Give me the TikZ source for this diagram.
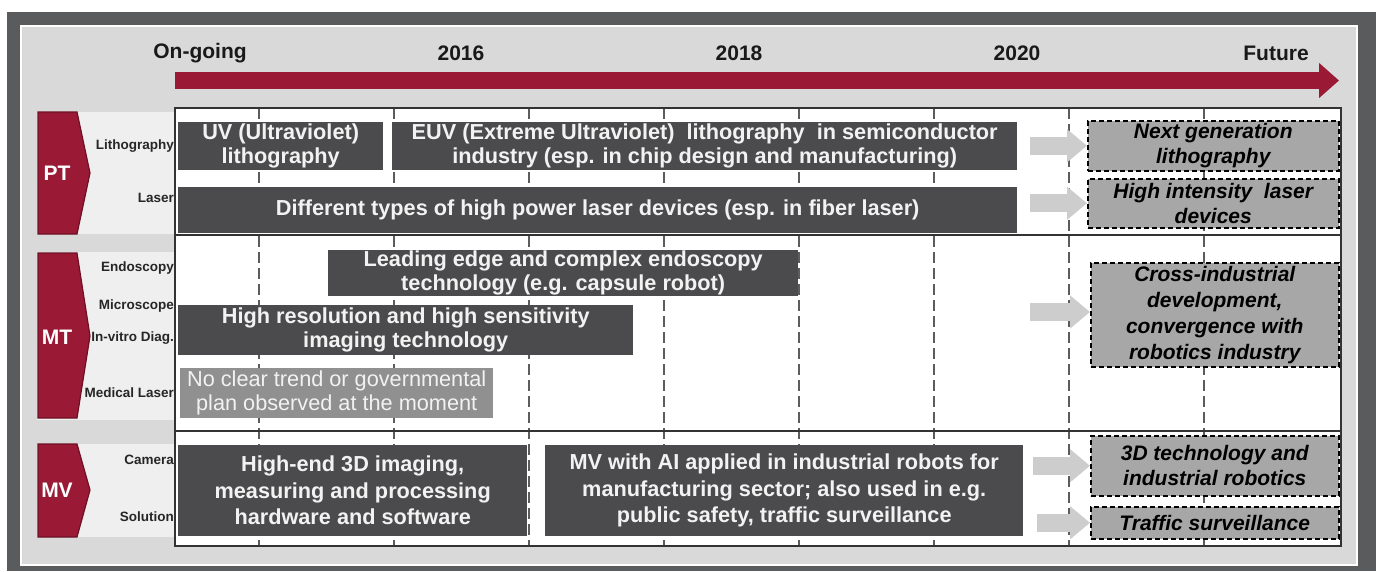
\documentclass[tikz,border=0pt]{standalone}
\usepackage{fontspec}
\setmainfont{Liberation Sans}
\usetikzlibrary{arrows.meta}

\definecolor{framegray}{HTML}{5A5B5D}
\definecolor{bggray}{HTML}{D9D9D9}
\definecolor{lblgray}{HTML}{EFEFEF}
\definecolor{bargray}{HTML}{4B4B4D}
\definecolor{bartext}{HTML}{F2F2F2}
\definecolor{nogray}{HTML}{909090}
\definecolor{futgray}{HTML}{A7A7A7}
\definecolor{arrgray}{HTML}{CDCDCD}
\definecolor{linegray}{HTML}{5C5C5C}
\definecolor{tlred}{HTML}{9A1A36}
\definecolor{chevline}{HTML}{6E1025}

\begin{document}
\begin{tikzpicture}[x=1pt, y=-1pt,
    every node/.style = {inner sep=0pt, align=center},
    wh/.style 2 args = {minimum width=#1pt, minimum height=#2pt},
    bar/.style = {fill=bargray, text=bartext, anchor=north west, font=\fontsize{21.7}{24}\selectfont\bfseries},
    tallbar/.style = {bar, font=\fontsize{21.7}{26.5}\selectfont\bfseries},
    nobar/.style = {fill=nogray, text=bartext, anchor=north west, font=\fontsize{21.7}{24}\selectfont},
    futbox/.style = {fill=futgray, draw=black, line width=1.5pt, dash pattern=on 5pt off 3pt, anchor=north west,
      font=\fontsize{21}{25}\selectfont\bfseries\itshape},
    futarrow/.style = {draw=arrgray, line width=18pt, -{Triangle[length=20pt, width=32pt]}},
    timeline/.style = {draw=tlred, line width=17pt, -{Triangle[length=20pt, width=34pt]}},
    year/.style = {font=\fontsize{21}{24}\selectfont\bfseries, text=black!90},
    sublbl/.style = {anchor=east, font=\fontsize{13.5}{15}\selectfont\bfseries, text=black!85},
    chev/.style = {fill=tlred, draw=chevline, line width=1.2pt},
    chevlbl/.style = {font=\fontsize{21}{24}\selectfont\bfseries, text=white},
    gridline/.style = {draw=linegray, line width=1.3pt, dash pattern=on 11pt off 5pt},
    border/.style = {draw=black!80, line width=1.6pt}]

  \useasboundingbox (0,0) rectangle (1381,571);

  % frame and background
  \fill[white] (0,0) rectangle (1381,571);
  \fill[framegray] (7,12) rectangle (1376,571);
  \filldraw[fill=bggray, draw=white, line width=1.5pt] (21,26) rectangle (1357,565);

  % timeline
  \node[year] (ongoing) at (200,53) {On-going};
  \node[year] (y2016) at (461,53) {2016};
  \node[year] (y2018) at (739,53) {2018};
  \node[year] (y2020) at (1017,53) {2020};
  \node[year] (future) at (1276,53) {Future};
  \coordinate (tlstart) at (175,80.5);
  \coordinate (tlend) at (1339,80.5);
  \draw[timeline] (tlstart) -- (tlend);

  % label column
  \fill[lblgray] (37,112) rectangle (175,234);
  \fill[lblgray] (37,252) rectangle (175,420);
  \fill[lblgray] (37,444) rectangle (175,537);

  \draw[chev] (38,112) -- (77,112) -- (90,173) -- (77,234) -- (38,234) -- cycle;
  \draw[chev] (38,253) -- (77,253) -- (90,336) -- (77,418) -- (38,418) -- cycle;
  \draw[chev] (38,444) -- (77,444) -- (90,490) -- (77,537) -- (38,537) -- cycle;
  \node[chevlbl] (pt) at (57,173) {PT};
  \node[chevlbl] (mt) at (57,337) {MT};
  \node[chevlbl] (mv) at (57,490) {MV};

  \node[sublbl] (litho) at (174,146) {Lithography};
  \node[sublbl] (laserlbl) at (174,198) {Laser};
  \node[sublbl] (endolbl) at (174,268) {Endoscopy};
  \node[sublbl] (microlbl) at (174,306) {Microscope};
  \node[sublbl] (vitrolbl) at (174,338) {In-vitro Diag.};
  \node[sublbl] (medlbl) at (174,393) {Medical Laser};
  \node[sublbl] (camlbl) at (174,460) {Camera};
  \node[sublbl] (sollbl) at (174,517) {Solution};

  % table
  \fill[white] (175,108) rectangle (1341,546);
  \foreach \x in {259,394,529,664,799,934,1069,1204}
    \draw[gridline] (\x,108) -- (\x,546);
  \draw[border] (175,108) rectangle (1341,546);
  \draw[border] (175,235) -- (1341,235);
  \draw[border] (175,431) -- (1341,431);

  % PT
  \node[bar, wh={205}{48}] (uv) at (178,122) {UV (Ultraviolet)\\lithography};
  \node[bar, wh={625}{48}] (euv) at (392,122)
    {EUV (Extreme Ultraviolet)\ \ lithography\ \ in semiconductor\\industry (esp. in chip design and manufacturing)};
  \node[bar, wh={839}{46}] (laser) at (178,187)
    {Different types of high power laser devices (esp. in fiber laser)};
  \node[futbox, wh={251}{50}] (nextgen) at (1087,120) {Next generation\\lithography};
  \node[futbox, wh={251}{49}] (hilaser) at (1087,178) {High intensity\ \ laser\\devices};
  \draw[futarrow, shorten <=13pt] (euv.east |- nextgen.west) -- (nextgen.west);
  \draw[futarrow, shorten <=13pt] (laser.east |- hilaser.west) -- (hilaser.west);

  % MT
  \node[bar, wh={470}{46}] (endo) at (328,250)
    {Leading edge and complex endoscopy\\technology (e.g. capsule robot)};
  \node[bar, wh={455}{50}] (hires) at (178,305)
    {High resolution and high sensitivity\\imaging technology};
  \node[nobar, wh={313}{50}] (noclear) at (180,368)
    {No clear trend or governmental\\plan observed at the moment};
  \node[futbox, wh={248}{104}, font=\fontsize{21}{26}\selectfont\bfseries\itshape] (cross) at (1090,262)
    {Cross-industrial\\development,\\convergence with\\robotics industry};
  \coordinate (crossfrom) at (1030,312);
  \draw[futarrow] (crossfrom) -- (cross.west |- crossfrom);

  % MV
  \node[tallbar, wh={349}{91}] (hiend) at (178,445)
    {High-end 3D imaging,\\measuring and processing\\hardware and software};
  \node[tallbar, wh={478}{91}] (mvai) at (545,445)
    {MV with AI applied in industrial robots for\\manufacturing sector; also used in e.g.\\public safety, traffic surveillance};
  \node[futbox, wh={248}{60}] (tech3d) at (1090,435) {3D technology and\\industrial robotics};
  \node[futbox, wh={248}{32}] (traffic) at (1090,506) {Traffic surveillance};
  \draw[futarrow, shorten <=10pt] (mvai.east |- tech3d.west) -- (tech3d.west);
  \draw[futarrow, shorten <=14pt] (mvai.east |- traffic.west) -- (traffic.west);

\end{tikzpicture}
\end{document}
